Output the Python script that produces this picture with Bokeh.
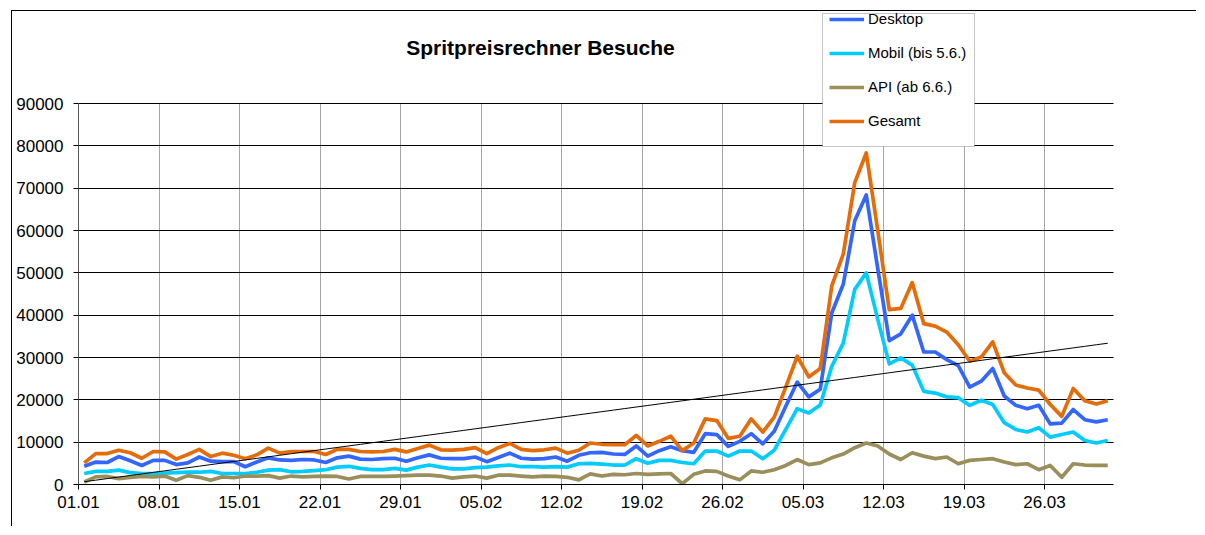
import numpy as np
from bokeh.plotting import figure
from bokeh.models import (ColumnDataSource, FixedTicker, Legend, LegendItem, Label,
                          BoxAnnotation, Range1d, NumeralTickFormatter)
from bokeh.embed import file_html
from bokeh.resources import INLINE

# ---------------- data ----------------
tick_days = [0, 7, 14, 21, 28, 35, 42, 49, 56, 63, 70, 77, 84]
tick_labels = ["01.01", "08.01", "15.01", "22.01", "29.01", "05.02", "12.02",
               "19.02", "26.02", "05.03", "12.03", "19.03", "26.03"]

desktop = [4300, 5300, 5200, 6600, 5600, 4500, 5700, 5700, 4700, 5100,
           6500, 5500, 5400, 5400, 4200, 5300, 6300, 5800, 5700, 5900,
           5800, 5200, 6300, 6700, 6000, 5900, 6100, 6200, 5500, 6300,
           7000, 6200, 6100, 6100, 6500, 5400, 6400, 7400, 6200, 6000,
           6100, 6500, 5500, 6900, 7500, 7600, 7200, 7100, 9100, 6700,
           8000, 8900, 8000, 7600, 12000, 11800, 9000, 10200, 12000, 9600,
           12600, 18500, 24200, 20700, 22500, 40500, 47300, 62300, 68400, 51000,
           34000, 35600, 40000, 31300, 31300, 29500, 28100, 23000, 24400, 27400,
           20900, 18700, 17900, 18700, 14300, 14500, 17700, 15300, 14800, 15300]

mobil = [2600, 3100, 3100, 3400, 2800, 2600, 2600, 2700, 2800, 2900,
         2900, 3100, 2600, 2600, 2600, 2900, 3400, 3500, 3000, 3100,
         3300, 3500, 4100, 4300, 3800, 3500, 3500, 3800, 3400, 4100,
         4600, 4100, 3700, 3700, 4000, 4100, 4400, 4600, 4200, 4200,
         4100, 4200, 4100, 4900, 5000, 4800, 4600, 4600, 6100, 5000,
         5700, 5700, 5200, 4900, 7900, 7900, 6700, 7900, 7900, 6100,
         8100, 13000, 17900, 16900, 18800, 27900, 33400, 46100, 50000, 39000,
         28500, 29900, 28200, 22000, 21600, 20700, 20500, 18700, 19900, 18900,
         14600, 13000, 12400, 13400, 11200, 11800, 12400, 10400, 9800, 10400]

api = [600, 1800, 1900, 1400, 1700, 1900, 1800, 2000, 1000, 2100,
       1700, 1000, 1800, 1600, 2000, 2000, 2100, 1500, 2000, 1800,
       1900, 2000, 1900, 1300, 1900, 1900, 1900, 2000, 2100, 2200,
       2200, 2000, 1500, 1800, 2000, 1500, 2200, 2200, 2000, 1800,
       2000, 1900, 1700, 1100, 2500, 2000, 2400, 2300, 2600, 2400,
       2500, 2600, 200, 2400, 3200, 3100, 2000, 1100, 3200, 2900,
       3500, 4500, 5900, 4700, 5100, 6300, 7200, 8700, 9800, 9100,
       7200, 5900, 7500, 6700, 6100, 6500, 4900, 5700, 5900, 6100,
       5300, 4700, 4900, 3500, 4500, 1700, 4900, 4600, 4500, 4500]

gesamt = [5100, 7300, 7300, 8100, 7500, 6200, 7800, 7700, 6000, 7100,
          8300, 6600, 7400, 6900, 6100, 7000, 8600, 7400, 7800, 7800,
          7800, 7100, 8300, 8300, 7800, 7700, 7800, 8300, 7700, 8500,
          9300, 8200, 8100, 8300, 8700, 7300, 8700, 9700, 8300, 8000,
          8200, 8600, 7400, 8100, 9800, 9500, 9400, 9400, 11600, 9100,
          10200, 11400, 8000, 9800, 15500, 15100, 10900, 11400, 15500, 12400,
          15900, 23000, 30300, 25400, 27400, 46900, 54400, 71300, 78300, 60000,
          41300, 41600, 47700, 38000, 37400, 36000, 33000, 29100, 30100, 33700,
          26400, 23500, 22800, 22300, 18900, 16100, 22700, 19800, 19000, 19800]

series_names = ["Desktop", "Mobil (bis 5.6.)", "API (ab 6.6.)", "Gesamt"]
series_colors = ["#3366FF", "#00CCFF", "#9A8F5B", "#E46C0A"]

Y_MAX = 90000

# ---------------- figure ----------------
FONT = "Liberation Sans"
n = len(gesamt)
x = np.arange(n) + 0.5
src = ColumnDataSource(dict(x=x, desktop=desktop, mobil=mobil, api=api, gesamt=gesamt))

# frame: 1119 x 473 px; 90 days -> 1035 px, 90000 -> 381 px
p = figure(width=1185, height=516, output_backend="svg", toolbar_location=None,
           x_range=Range1d(0, n * 1119 / 1035), y_range=Range1d(0, Y_MAX * 473 / 381),
           min_border_left=66, min_border_right=0, min_border_top=0, min_border_bottom=43)
p.outline_line_color = None
p.background_fill_color = "white"
p.border_fill_color = "white"
p.styles = {"margin-left": "11px", "margin-top": "10px",
            "border-left": "1px solid black", "border-top": "1px solid black"}

# axes
p.xaxis.ticker = FixedTicker(ticks=tick_days)
p.xaxis.major_label_overrides = {d: lab for d, lab in zip(tick_days, tick_labels)}
p.xaxis.bounds = (0, n)
p.yaxis.ticker = FixedTicker(ticks=list(range(0, Y_MAX + 1, 10000)))
p.yaxis.formatter = NumeralTickFormatter(format="0")
p.yaxis.bounds = (0, Y_MAX)
for ax in (p.xaxis, p.yaxis):
    ax.major_tick_out = 5
    ax.major_tick_in = 0
    ax.minor_tick_line_color = None
    ax.major_label_text_font = FONT
    ax.major_label_text_font_size = "17px"
    ax.major_label_text_color = "black"
    ax.major_tick_line_color = "black"
p.xaxis.axis_line_color = "black"
p.yaxis.axis_line_color = "#555555"
p.xaxis.major_label_standoff = 6
p.yaxis.major_label_standoff = 10

# grids
p.xgrid.ticker = FixedTicker(ticks=tick_days[1:])
p.xgrid.cross_bounds = (0, Y_MAX)
p.xgrid.grid_line_color = "#a6a6a6"
p.xgrid.grid_line_width = 1
p.ygrid.ticker = FixedTicker(ticks=list(range(10000, Y_MAX + 1, 10000)))
p.ygrid.cross_bounds = (0, n)
p.ygrid.grid_line_color = "black"
p.ygrid.grid_line_width = 1

# lines
renderers = []
for col, color in zip(["desktop", "mobil", "api", "gesamt"], series_colors):
    r = p.line("x", col, source=src, line_color=color, line_width=3.7, line_join="round")
    renderers.append(r)

# linear trend of Gesamt
k, d = np.polyfit(x, np.array(gesamt, dtype=float), 1)
p.line(x, k * x + d, line_color="black", line_width=1)

# legend box
p.add_layout(BoxAnnotation(left=744, right=896, top=471, bottom=338,
                           left_units="screen", right_units="screen",
                           top_units="screen", bottom_units="screen",
                           fill_color="white", fill_alpha=1, line_color="#404040", line_width=1))

legend = Legend(items=[LegendItem(label=nm, renderers=[r]) for nm, r in zip(series_names, renderers)],
                location=(751, 355), margin=0, padding=0, spacing=17,
                glyph_width=35, glyph_height=16, label_height=16, label_standoff=4,
                label_text_font=FONT, label_text_font_size="15px", label_text_color="black",
                border_line_color=None, background_fill_alpha=0)
p.add_layout(legend, "center")

# title
p.add_layout(Label(x=462, y=437, x_units="screen", y_units="screen",
                   text="Spritpreisrechner Besuche", text_align="center", text_baseline="middle",
                   text_font=FONT, text_font_style="bold", text_font_size="21px", text_color="black"))

open("out.html", "w").write(file_html(p, INLINE))
